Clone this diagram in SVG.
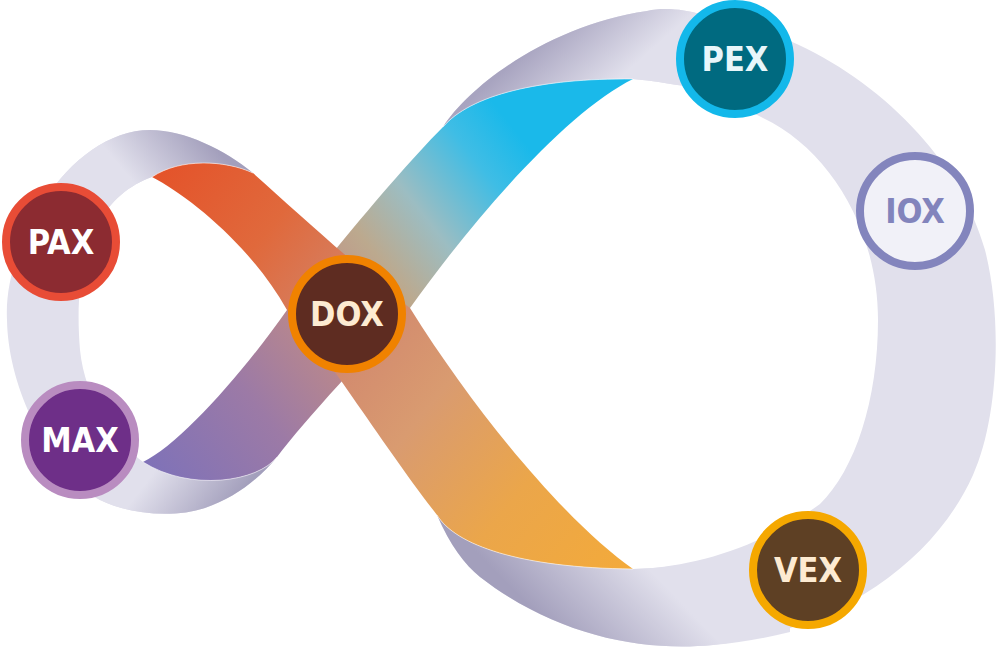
<svg xmlns="http://www.w3.org/2000/svg" width="1000" height="649" viewBox="0 0 1000 649">
<style>
.band{fill:#e1e0ec}
.fold{fill:none;stroke:#ffffff;stroke-opacity:.55;stroke-width:1}
.node circle{stroke-width:8}
.lbl{font-family:'DejaVu Sans Condensed','DejaVu Sans',sans-serif;font-weight:bold;font-size:34px;text-anchor:middle}
</style>
<defs>
<linearGradient id="gA" gradientUnits="userSpaceOnUse" x1="152" y1="177" x2="633" y2="569">
<stop offset="0" stop-color="#e4532a"/>
<stop offset="0.2" stop-color="#e0693c"/>
<stop offset="0.4" stop-color="#d1876e"/>
<stop offset="0.58" stop-color="#d99b70"/>
<stop offset="0.78" stop-color="#eba64a"/>
<stop offset="1" stop-color="#f3aa3a"/>
</linearGradient>
<linearGradient id="gB" gradientUnits="userSpaceOnUse" x1="143" y1="462" x2="633" y2="79">
<stop offset="0" stop-color="#7f72b8"/>
<stop offset="0.2" stop-color="#9c7aa6"/>
<stop offset="0.38" stop-color="#c08b86"/>
<stop offset="0.5" stop-color="#bca98e"/>
<stop offset="0.6" stop-color="#9cbdc2"/>
<stop offset="0.72" stop-color="#3fbde5"/>
<stop offset="0.8" stop-color="#1ab9ea"/>
<stop offset="1" stop-color="#1ab9ea"/>
</linearGradient>
<linearGradient id="sTL" gradientUnits="userSpaceOnUse" x1="205" y1="135" x2="140" y2="190">
<stop offset="0" stop-color="#a39fbc"/>
<stop offset="1" stop-color="#e1e0ec"/>
</linearGradient>
<linearGradient id="sBL" gradientUnits="userSpaceOnUse" x1="230" y1="508" x2="165" y2="458">
<stop offset="0" stop-color="#a39fbc"/>
<stop offset="1" stop-color="#e1e0ec"/>
</linearGradient>
<linearGradient id="sTM" gradientUnits="userSpaceOnUse" x1="540" y1="38" x2="595" y2="100">
<stop offset="0" stop-color="#a8a4c0"/>
<stop offset="1" stop-color="#e1e0ec"/>
</linearGradient>
<linearGradient id="sBM" gradientUnits="userSpaceOnUse" x1="560" y1="638" x2="640" y2="560">
<stop offset="0" stop-color="#a39fbc"/>
<stop offset="1" stop-color="#e1e0ec"/>
</linearGradient>
</defs>

<g id="connectors">
<path class="band" d="M253,173 C225,150 185,130 150,130 C110,130 70,160 45,200 C20,240 5,280 7,320 C8,380 40,460 100,500 C130,515 175,518 205,508 C235,498 260,478 277,457 C258,482 190,492 143,462 C115,440 85,400 80,350 C76,300 80,260 98,225 C110,200 130,185 152,177 C180,158 225,160 253,173 Z"/>
<path class="band" d="M443,127 C470,85 550,25 647,11 C665,7 685,10 700,14 C730,20 760,30 790,41 C880,80 960,160 985,250 C1003,320 998,420 973,475 C935,560 840,630 713,645 C640,652 555,635 480,577 C465,565 450,545 437,515 C455,545 520,568 633,569 C690,568 760,548 820,504 C855,470 878,400 878,320 C878,230 830,150 763,118 C730,100 700,88 677,85 C660,82 645,80 633,79 C540,78 470,95 443,127 Z"/>
<path fill="url(#sTL)" d="M45,200 C70,160 110,130 150,130 C185,130 225,150 253,173 C225,160 180,158 152,177 C130,185 110,200 98,225 Z"/>
<path fill="url(#sBL)" d="M85,492 L100,500 C130,515 175,518 205,508 C235,498 260,478 277,457 C258,482 190,492 143,462 L115,455 Z"/>
<path fill="url(#sTM)" d="M443,127 C470,85 550,25 647,11 C665,7 685,10 700,14 L700,80 L677,85 C660,82 645,80 633,79 C540,78 470,95 443,127 Z"/>
<path fill="url(#sBM)" d="M437,515 C450,545 465,565 480,577 C555,635 640,652 713,645 C740,643 765,638 790,632 L790,560 L760,545 C720,558 680,568 633,569 C520,568 455,545 437,515 Z"/>
<path fill="url(#gB)" d="M143,462 C180,445 245,370 287,310 C330,255 400,170 443,127 C470,95 540,78 633,79 C570,110 480,210 410,308 C370,350 305,420 277,457 C258,482 190,492 143,462 Z"/>
<path fill="url(#gA)" d="M152,177 C190,197 250,245 287,310 C318,342 385,448 437,515 C455,545 520,568 633,569 C570,525 480,420 410,308 C360,270 300,215 253,173 C225,160 180,158 152,177 Z"/>
<path class="fold" d="M152,177 C180,158 225,160 253,173"/>
<path class="fold" d="M443,127 C470,95 540,78 633,79"/>
<path class="fold" d="M143,462 C190,492 258,482 277,457"/>
<path class="fold" d="M437,515 C455,545 520,568 633,569"/>
</g>

<g id="node-pax" class="node">
<circle cx="61" cy="242" r="55" fill="#8c2b31" stroke="#e84c36"/>
<text class="lbl" x="61" y="254" fill="#ffffff">PAX</text>
</g>
<g id="node-max" class="node">
<circle cx="80" cy="440" r="55" fill="#6e2f88" stroke="#b98cc0"/>
<text class="lbl" x="80" y="452" fill="#ffffff">MAX</text>
</g>
<g id="node-dox" class="node">
<circle cx="347" cy="314" r="55" fill="#5e2c21" stroke="#f08200"/>
<text class="lbl" x="347" y="326" fill="#fdebd2">DOX</text>
</g>
<g id="node-pex" class="node">
<circle cx="735" cy="59" r="55" fill="#006a80" stroke="#13b8ea"/>
<text class="lbl" x="735" y="71" fill="#e8f6fa">PEX</text>
</g>
<g id="node-iox" class="node">
<circle cx="915" cy="211" r="55" fill="#f1f1f8" stroke="#8385bd"/>
<text class="lbl" x="915" y="223" fill="#8284bc">IOX</text>
</g>
<g id="node-vex" class="node">
<circle cx="808" cy="570" r="55" fill="#5e4024" stroke="#f5a800"/>
<text class="lbl" x="808" y="582" fill="#fdebd2">VEX</text>
</g>
</svg>
